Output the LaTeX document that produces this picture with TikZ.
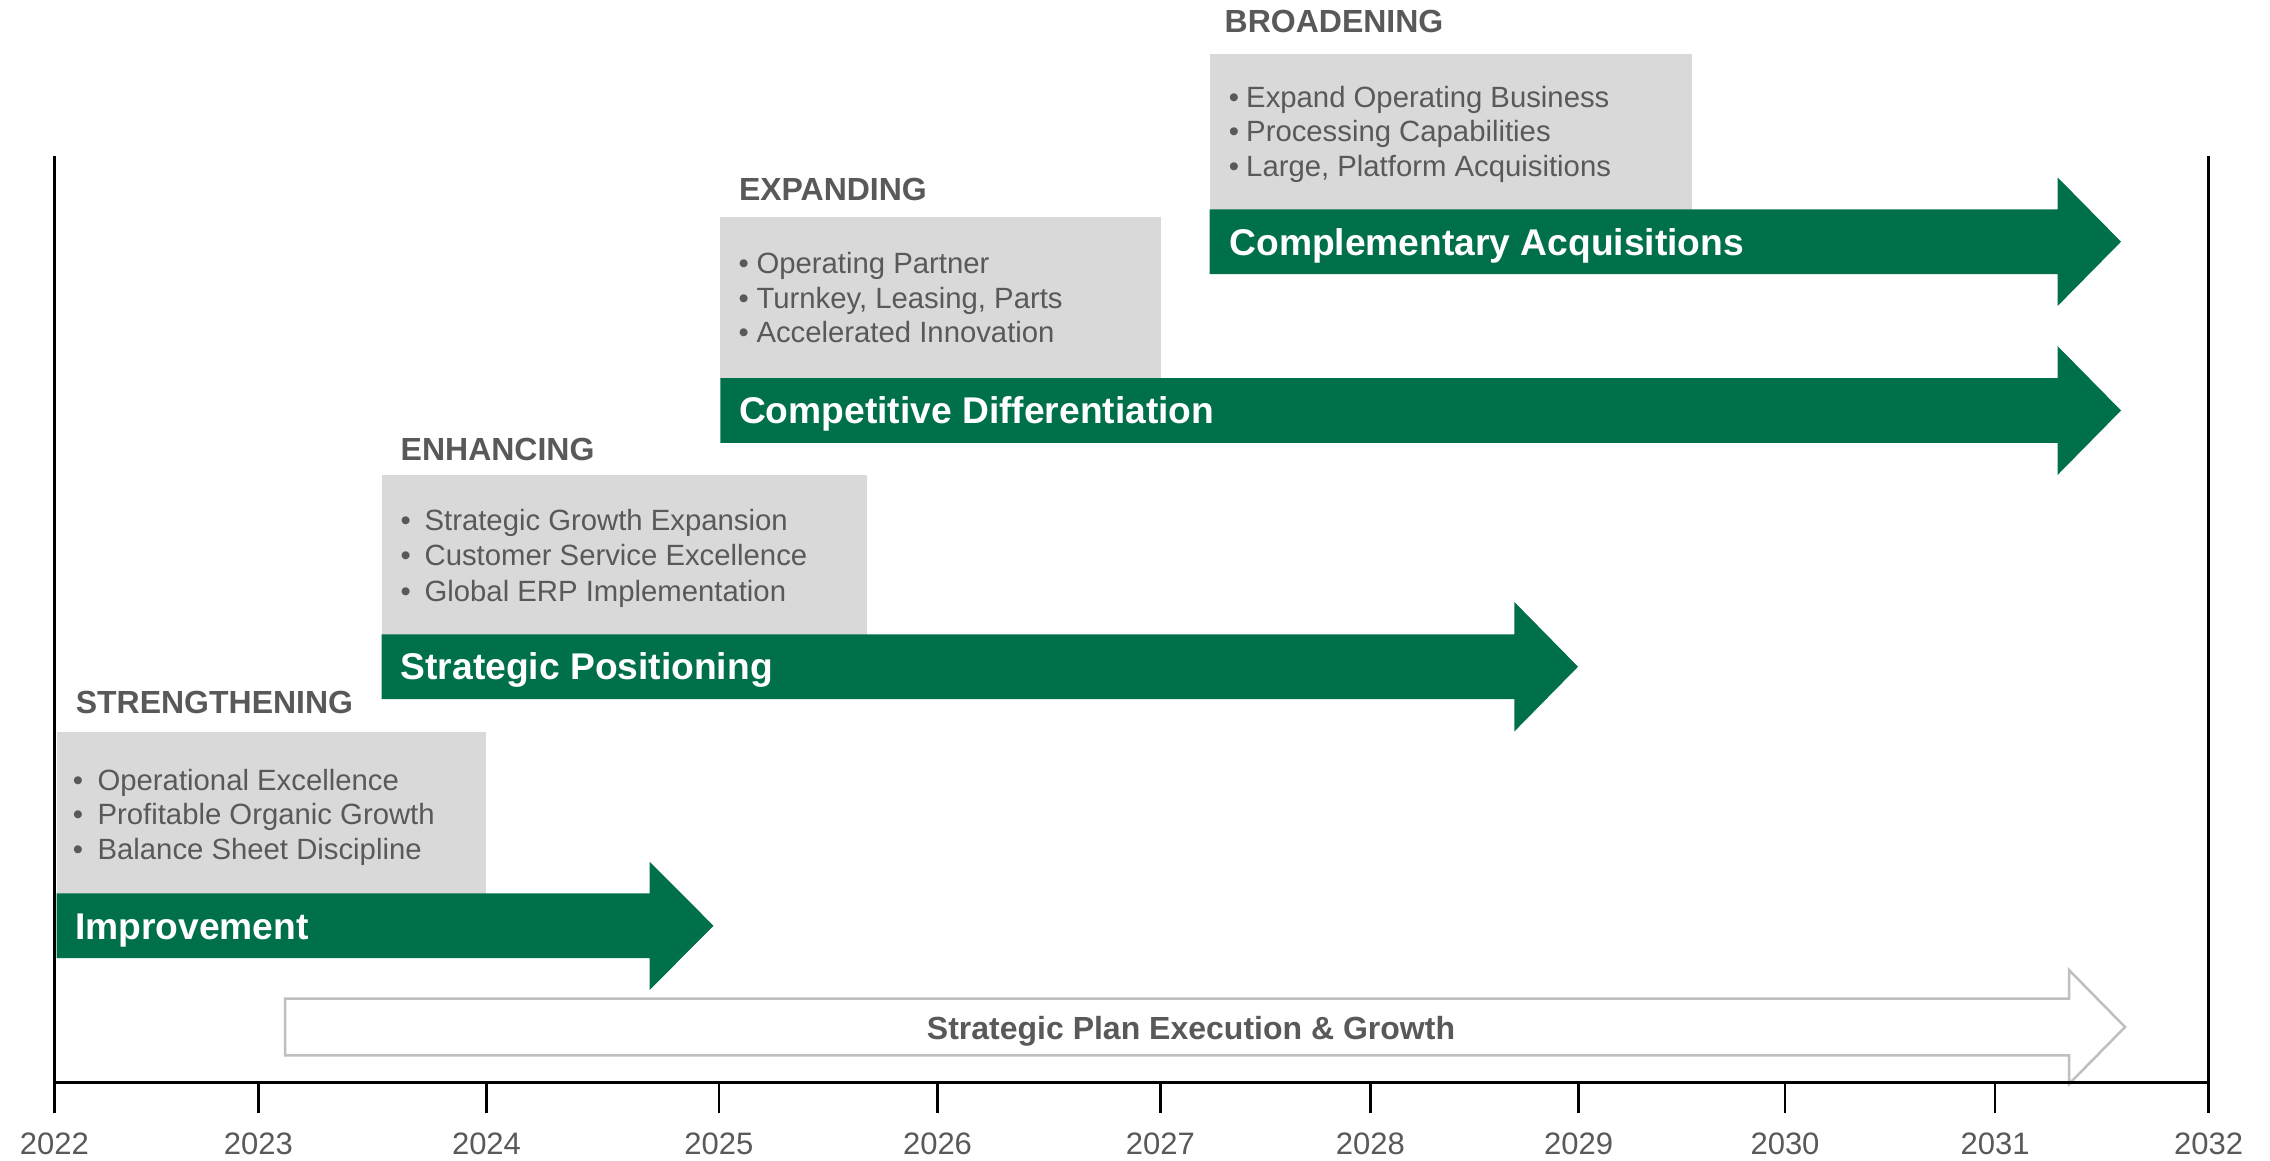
\documentclass[tikz,border=0pt]{standalone}
\usepackage{fontspec}
\setmainfont{Liberation Sans}
\definecolor{grn}{HTML}{00704A}
\definecolor{boxgray}{HTML}{D9D9D9}
\definecolor{txtgray}{HTML}{595959}
\definecolor{outgray}{HTML}{BFBFBF}
\tikzset{
 phasehead/.style={anchor=base west, inner sep=0pt, text=txtgray, font=\fontsize{32}{37}\selectfont\bfseries},
 bul/.style={anchor=base west, inner sep=0pt, text=txtgray, font=\fontsize{29.3}{34}\selectfont},
 arrlabel/.style={anchor=base west, inner sep=0pt, text=white, font=\fontsize{37.2}{44}\selectfont\bfseries},
 planlabel/.style={anchor=base, inner sep=0pt, text=txtgray, font=\fontsize{32}{38}\selectfont\bfseries},
 yearlbl/.style={anchor=base, inner sep=0pt, text=txtgray, font=\fontsize{31}{36}\selectfont},
 graybox/.style={fill=boxgray, draw=none},
 greenarrow/.style={fill=grn, draw=none},
 planarrow/.style={fill=white, draw=outgray, line width=2.5pt, line join=miter},
 axisline/.style={line width=3pt, black},
 tickline/.style={line width=2.5pt, black},
}
% #1 style, #2 left x, #3 centre y, #4 shaft half height, #5 head base x, #6 tip x, #7 head half height
\newcommand\drawbigarrow[7]{%
  \path[#1] (#2,{#3-#4}) -- (#5,{#3-#4}) -- (#5,{#3-#7}) -- (#6,#3) -- (#5,{#3+#7}) -- (#5,{#3+#4}) -- (#2,{#3+#4}) -- cycle;}
\begin{document}
\begin{tikzpicture}[x=1pt,y=-1pt]
\useasboundingbox[fill=white] (0,0) rectangle (2270,1160);

% ---- strategic plan outline arrow
\drawbigarrow{planarrow}{285}{1027}{28.3}{2069}{2125}{57}
\node[planlabel] (plan) at (1191,1039.5) {Strategic Plan Execution \& Growth};

% ---- gray boxes
\path[graybox] (56.7,732.3) rectangle (486,893.5);
\path[graybox] (382.3,475) rectangle (867,634.5);
\path[graybox] (720.3,217.3) rectangle (1161.4,378.5);
\path[graybox] (1209.5,54) rectangle (1692.3,209.5);

% ---- green arrows
\drawbigarrow{greenarrow}{56.7}{925.8}{32.4}{649.5}{713.5}{64.3}
\drawbigarrow{greenarrow}{381.5}{666.7}{32.4}{1514.3}{1578}{64.8}
\drawbigarrow{greenarrow}{720.3}{410.5}{32.4}{2057.5}{2121}{64.5}
\drawbigarrow{greenarrow}{1209.5}{241.7}{32.4}{2057.5}{2121}{64.4}

\node[arrlabel] (improve) at (75,939.5) {Improvement};
\node[arrlabel] (stratpos) at (400.5,679.8) {Strategic Positioning};
\node[arrlabel] (compdiff) at (738.8,423.6) {Competitive Differentiation};
\node[arrlabel] (complacq) at (1229.2,255) {Complementary Acquisitions};

% ---- phase headings
\node[phasehead] (hstr) at (75.6,713.3) {STRENGTHENING};
\node[phasehead] (henh) at (400.5,460) {ENHANCING};
\node[phasehead] (hexp) at (738.8,200.7) {EXPANDING};
\node[phasehead] (hbro) at (1224.5,32.3) {BROADENING};

% ---- bullets: strengthening
\node[bul] (b1a) at (72.6,790) {\textbullet};
\node[bul] (t1a) at (97.4,790) {Operational Excellence};
\node[bul] (b1b) at (72.6,824.5) {\textbullet};
\node[bul] (t1b) at (97.4,824.5) {Profitable Organic Growth};
\node[bul] (b1c) at (72.6,859) {\textbullet};
\node[bul] (t1c) at (97.4,859) {Balance Sheet Discipline};
% ---- bullets: enhancing
\node[bul] (b2a) at (400.4,530) {\textbullet};
\node[bul] (t2a) at (424.4,530) {Strategic Growth Expansion};
\node[bul] (b2b) at (400.4,565.7) {\textbullet};
\node[bul] (t2b) at (424.4,565.7) {Customer Service Excellence};
\node[bul] (b2c) at (400.4,601) {\textbullet};
\node[bul] (t2c) at (424.4,601) {Global ERP Implementation};
% ---- bullets: expanding
\node[bul] (b3a) at (738.5,273.3) {\textbullet};
\node[bul] (t3a) at (756.3,273.3) {Operating Partner};
\node[bul] (b3b) at (738.5,308.3) {\textbullet};
\node[bul] (t3b) at (756.3,308.3) {Turnkey, Leasing, Parts};
\node[bul] (b3c) at (738.5,342.7) {\textbullet};
\node[bul] (t3c) at (756.3,342.7) {Accelerated Innovation};
% ---- bullets: broadening
\node[bul] (b4a) at (1228.6,107.3) {\textbullet};
\node[bul] (t4a) at (1246,107.3) {Expand Operating Business};
\node[bul] (b4b) at (1228.6,141.7) {\textbullet};
\node[bul] (t4b) at (1246,141.7) {Processing Capabilities};
\node[bul] (b4c) at (1228.6,176.7) {\textbullet};
\node[bul] (t4c) at (1246,176.7) {Large, Platform Acquisitions};

% ---- axes
\coordinate (axL) at (54.3,156);
\coordinate (axR) at (2208.5,156);
\coordinate (bL) at (54.3,1113);
\coordinate (bR) at (2208.5,1113);
\draw[axisline] (axL) -- (bL);
\draw[axisline] (axR) -- (bR);
\draw[axisline] (54.3,1082) -- (2208.5,1082);
\foreach \yr/\xx in {2022/54.3,2023/258.4,2024/486.5,2025/718.8,2026/937.5,2027/1160.3,2028/1370.3,2029/1578.7,2030/1785,2031/1995,2032/2208.5}{
  \draw[tickline] (\xx,1082) -- (\xx,1113);
  \node[yearlbl] (y\yr) at (\xx,1154) {\yr};
}
\end{tikzpicture}
\end{document}
